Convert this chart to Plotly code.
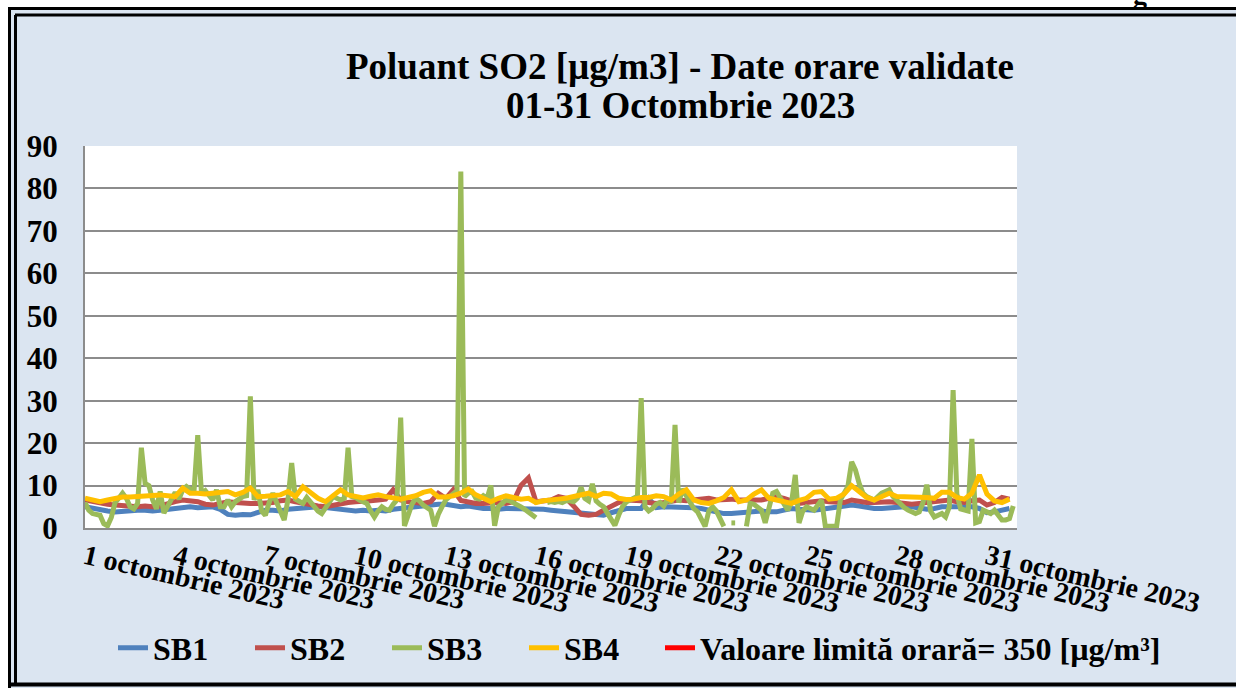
import pandas as pd
import plotly.graph_objects as go

# ---------------- data ----------------
START = "2023-10-01 00:00"
TICK_DAYS = ["2023-10-01", "2023-10-04", "2023-10-07", "2023-10-10", "2023-10-13", "2023-10-16",
             "2023-10-19", "2023-10-22", "2023-10-25", "2023-10-28", "2023-10-31"]
TICK_LABELS = ["1 octombrie 2023", "4 octombrie 2023", "7 octombrie 2023", "10 octombrie 2023",
               "13 octombrie 2023", "16 octombrie 2023", "19 octombrie 2023", "22 octombrie 2023",
               "25 octombrie 2023", "28 octombrie 2023", "31 octombrie 2023"]

# SB1, SB2, SB4: one value every 6 hours (4 per day)
SB1 = [5.0, 4.6, 4.2, 4.0,  3.8, 4.0, 4.0, 4.2,  4.2, 4.0, 4.2, 4.4,  4.6, 4.8, 5.0, 4.8,
       5.0, 5.0, 4.4, 3.2,  3.0, 3.2, 3.1, 3.8,  4.2, 4.2, 4.0, 4.4,  4.6, 4.8, 5.0, 5.0,
       4.8, 4.6, 4.4, 4.2,  4.0, 4.2, 4.0, 4.2,  4.0, 4.4, 4.6, 4.8,  5.0, 5.4, 5.6, 5.6,
       5.6, 5.4, 5.0, 5.2,  4.8, 4.6, 4.6, 4.4,  4.6, 4.6, 4.4, 4.6,  4.4, 4.4, 4.2, 4.0,
       3.8, 3.6, 3.4, 3.2,  3.2, 3.0, 3.6, 4.2,  4.6, 4.6, 4.6, 7.0,  4.8, 5.0, 5.0, 5.0,
       5.0, 4.8, 4.6, 4.2,  3.8, 3.4, 3.4, 3.5,  3.6, 3.8, 4.0, 3.8,  3.8, 4.2, 4.6, 4.4,
       4.2, 4.2, 4.4, 4.6,  4.8, 5.0, 5.4, 5.2,  4.8, 4.6, 4.6, 4.8,  5.0, 5.0, 5.0, 4.6,
       4.4, 4.6, 5.0, 5.0,  5.0, 5.0, 5.0, 4.6,  3.6, 3.8, 4.2, 4.6]

SB2 = [6.6, 6.2, 5.8, 5.6,  5.4, 5.2, 5.0, 5.0,  5.2, 5.0, 5.2, 5.8,  6.2, 6.6, 6.4, 6.2,
       5.6, 5.4, 5.8, 6.2,  6.0, 5.8, 5.8, 5.8,  5.8, 6.0, 6.4, 6.6,  6.2, 5.8, 5.4, 5.2,
       5.0, 5.4, 5.8, 6.0,  6.2, 6.2, 6.4, 6.6,  6.8, 9.0, 6.6, 6.2,  6.0, 5.8, 6.2, 8.2,
       7.0, 9.0, 6.5, 6.0,  5.8, 5.8, 6.0, 6.0,  5.8, 6.2, 10.0, 11.8, 6.2, 6.4, 6.6, 7.4,
       7.0, 5.2, 3.2, 3.0,  3.2, 4.2, 5.2, 6.0,  6.6, 6.6, 6.4, 6.0,  5.8, 6.0, 6.4, 6.6,
       6.4, 6.6, 7.0, 7.0,  6.6, 6.8, 6.8, 6.6,  6.6, 6.8, 6.6, 7.0,  7.4, 7.0, 6.4, 5.8,
       6.0, 6.2, 6.4, 6.2,  6.0, 6.0, 6.6, 6.2,  6.0, 6.0, 6.2, 6.2,  6.0, 5.8, 5.6, 5.8,
       6.0, 6.0, 6.4, 6.6,  6.2, 6.0, 6.4, 6.6,  5.4, 6.0, 7.2, 6.8]

SB4 = [7.0, 6.6, 6.2, 6.6,  7.0, 7.3, 7.3, 7.4,  7.4, 7.6, 7.8, 7.6,  7.4, 9.4, 8.2, 8.2,
       8.0, 8.2, 8.4, 8.6,  7.8, 8.4, 9.4, 7.4,  7.5, 7.6, 7.8, 8.6,  7.4, 9.7, 8.4, 7.0,
       6.2, 7.6, 9.0, 7.8,  7.4, 7.1, 7.5, 7.8,  7.4, 7.0, 6.8, 7.2,  7.6, 8.4, 8.8, 7.3,
       7.3, 7.6, 8.2, 9.2,  7.8, 7.0, 6.2, 7.0,  7.6, 7.2, 6.8, 7.0,  6.0, 6.4, 6.7, 6.8,
       7.0, 7.4, 7.9, 8.2,  7.4, 8.2, 8.0, 7.0,  6.7, 6.8, 7.2, 7.2,  7.6, 7.4, 6.6, 8.0,
       9.0, 6.6, 6.0, 5.8,  6.4, 7.2, 9.0, 6.2,  6.6, 8.0, 9.0, 7.0,  6.6, 6.2, 5.8, 6.5,
       7.0, 8.4, 8.6, 6.8,  7.0, 8.0, 10.0, 8.6, 7.2, 6.6, 7.4, 8.2,  7.4, 7.4, 7.4, 7.4,
       7.2, 7.0, 8.4, 8.4,  7.2, 6.8, 8.2, 12.5, 8.0, 6.4, 6.0, 6.8]

# SB3: one value every 3 hours (8 per day), None = missing data
SB3 = [6.0, 4.2, 3.4, 3.2, 3.0, 1.0, 0.5, 2.5,
       6.0, 7.0, 8.2, 7.0, 5.0, 4.5, 5.8, 18.9,
       10.5, 10.0, 6.6, 4.5, 8.6, 3.5, 5.0, 7.0,
       8.4, 6.8, 9.0, 9.8, 9.0, 8.5, 21.9, 8.2,
       8.8, 7.8, 6.6, 9.0, 5.0, 5.0, 6.6, 5.0,
       6.2, 6.8, 7.4, 7.6, 31.0, 6.6, 9.0, 4.0,
       3.0, 6.0, 8.2, 6.0, 4.0, 1.9, 6.6, 15.3,
       6.8, 6.4, 5.8, 7.2, 6.0, 5.0, 4.0, 3.4,
       4.6, 6.2, 7.4, 7.0, 6.6, 7.0, 18.9, 7.4,
       7.2, 6.6, 6.2, 5.8, 4.0, 2.6, 4.0, 5.0,
       4.4, 4.2, 5.6, 6.6, 26.0, 0.5, 3.0, 5.6,
       7.0, 6.4, 5.4, 4.8, 4.2, 0.4, 3.2, 5.0,
       6.6, 7.4, 8.2, 8.8, 84.0, 7.4, 8.2, 8.6,
       7.0, 6.8, 7.6, 7.0, 10.0, 0.5, 5.0, 6.0,
       6.6, 6.4, 6.0, 5.4, 5.0, 4.4, 3.8, 3.2,
       2.4, None, None, 6.0, 6.2, 6.0, 6.2, 6.0,
       6.4, 6.4, 6.2, 7.0, 9.6, 7.0, 6.4, 10.4,
       6.4, 5.6, 5.0, 3.5, 2.0, 0.6, 3.0, 5.0,
       6.1, 6.5, 6.9, 7.5, 30.6, 5.0, 4.0, 4.6,
       5.6, 6.0, 5.2, 6.8, 6.0, 24.3, 6.0, 9.2,
       7.6, 6.0, 4.6, 3.8, 2.2, 0.4, 4.0, 5.0,
       4.0, 2.4, 0.4, None, 1.2, 1.2, None, None,
       0.4, 5.8, 5.6, 5.0, 4.2, 1.2, 5.0, 8.2,
       8.6, 7.0, 5.6, 4.2, 6.0, 12.5, 1.2, 4.0,
       5.0, 4.6, 4.2, 5.4, 6.6, 0.4, 0.4, 0.4,
       0.4, 6.6, 8.2, 9.8, 15.6, 13.7, 10.5, 8.2,
       7.4, 7.0, 6.6, 7.4, 8.2, 8.6, 9.0, 7.4,
       6.4, 5.4, 4.8, 4.2, 3.8, 3.4, 3.8, 6.0,
       10.2, 4.0, 2.6, 3.0, 3.4, 2.6, 5.0, 32.5,
       8.0, 4.5, 4.2, 4.0, 21.0, 1.2, 1.5, 4.2,
       3.8, 3.4, 4.2, 3.0, 1.9, 1.9, 2.2, 5.2]

LIMIT = 350  # valoare limită orară [µg/m³]

SERIES_NAMES = ["SB1", "SB2", "SB3", "SB4", "Valoare limită orară= 350 [µg/m³]"]
COLORS = ["#4F81BD", "#C0504D", "#9BBB59", "#FFC000", "#FF0000"]
TITLE_1 = "Poluant SO2 [µg/m3] - Date orare validate"
TITLE_2 = "01-31 Octombrie 2023"

# ---------------- figure ----------------
t6 = pd.date_range(START, periods=len(SB1), freq="6h")
t3 = pd.date_range(START, periods=len(SB3), freq="3h")
t_lim = pd.date_range(START, periods=31 * 24, freq="1h")

FONT = "Times New Roman, Liberation Serif, serif"
W, H = 1236, 688
PL, PR, PT, PB = 85, 1017, 146, 528


def fx(px):
    return (px - PL) / (PR - PL)


def fy(py):
    return (PB - py) / (PB - PT)


fig = go.Figure()
for name, x, y, c, lg in [(SERIES_NAMES[0], t6, SB1, COLORS[0], "legend"),
                          (SERIES_NAMES[1], t6, SB2, COLORS[1], "legend"),
                          (SERIES_NAMES[2], t3, SB3, COLORS[2], "legend"),
                          (SERIES_NAMES[3], t6, SB4, COLORS[3], "legend"),
                          (SERIES_NAMES[4], t_lim, [LIMIT] * len(t_lim), COLORS[4], "legend2")]:
    fig.add_trace(go.Scatter(x=x, y=y, name=name, mode="lines", legend=lg,
                             line=dict(color=c, width=5), connectgaps=False))

shapes = []
# white outside the frame
shapes.append(dict(type="rect", xref="paper", yref="paper", x0=fx(0), x1=fx(W), y0=fy(0), y1=fy(7),
                   fillcolor="white", line=dict(width=0), layer="above"))
shapes.append(dict(type="rect", xref="paper", yref="paper", x0=fx(0), x1=fx(8), y0=fy(0), y1=fy(H),
                   fillcolor="white", line=dict(width=0), layer="above"))
# double black frame
for (x0, y0, x1, y1, w) in [(8, 8.5, W, 8.5, 3), (9.5, 8, 9.5, H, 3),
                            (15, 15, W, 15, 3), (15.5, 15, 15.5, 684, 3),
                            (9, 684.5, W, 684.5, 4)]:
    shapes.append(dict(type="line", xref="paper", yref="paper", x0=fx(x0), x1=fx(x1), y0=fy(y0), y1=fy(y1),
                       line=dict(color="black", width=w), layer="above"))

legend_font = dict(family=FONT, size=32, color="black", weight="bold")

fig.update_layout(
    width=W, height=H, autosize=False,
    margin=dict(l=PL, r=W - PR, t=PT, b=H - PB),
    paper_bgcolor="#DBE5F1", plot_bgcolor="white",
    font=dict(family=FONT, color="black"),
    title=dict(text=TITLE_1, x=680 / W, xanchor="center", y=1 - 66 / H, yanchor="middle",
               font=dict(family=FONT, size=37, color="black", weight="bold")),
    xaxis=dict(type="date", range=[START, "2023-11-01 00:00"],
               tickvals=TICK_DAYS, ticktext=TICK_LABELS, tickangle=13,
               tickfont=dict(family=FONT, size=28, color="black", weight="bold"),
               showgrid=False, showline=True, linecolor="#8C8C8C", linewidth=2,
               ticks="", ticklabeloverflow="allow", zeroline=False),
    yaxis=dict(range=[0, 90], dtick=10, tick0=0,
               tickfont=dict(family=FONT, size=31, color="black", weight="bold"),
               showgrid=True, gridcolor="#8C8C8C", gridwidth=2,
               showline=True, linecolor="#8C8C8C", linewidth=2,
               zeroline=False, ticks="", ticklabelstandoff=19),
    legend=dict(orientation="h", x=fx(113), xanchor="left", y=fy(648), yanchor="middle",
                bgcolor="rgba(0,0,0,0)", entrywidth=92, entrywidthmode="pixels",
                font=legend_font),
    legend2=dict(orientation="h", x=fx(660), xanchor="left", y=fy(648), yanchor="middle",
                 bgcolor="rgba(0,0,0,0)", font=legend_font),
    shapes=shapes,
    annotations=[
        dict(text=TITLE_2, xref="paper", yref="paper", x=fx(680), y=fy(105), xanchor="center",
             yanchor="middle", showarrow=False,
             font=dict(family=FONT, size=37, color="black", weight="bold")),
        dict(text="g", xref="paper", yref="paper", x=fx(1140), y=fy(12), xanchor="center",
             yanchor="bottom", showarrow=False,
             font=dict(family=FONT, size=28, color="black", weight="bold")),
    ],
)

fig.write_html("out.html", config={"displayModeBar": False},
               post_script="document.body.style.margin='0';document.body.style.padding='0';")
